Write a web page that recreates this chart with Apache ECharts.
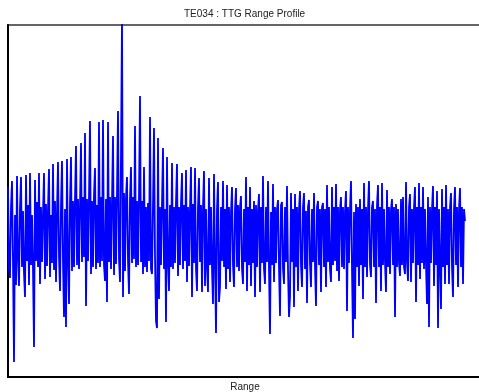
<!DOCTYPE html>
<html>
<head>
<meta charset="utf-8">
<title>TE034 : TTG Range Profile</title>
<script src="https://cdn.jsdelivr.net/npm/echarts@6/dist/echarts.min.js"></script>
<style>
  html, body { margin: 0; padding: 0; background: #ffffff; overflow: hidden; }
  #chart { width: 479px; height: 392px; }
</style>
</head>
<body>
<div id="chart"></div>
<script>
// Chart text
const chartTitle = 'TE034 : TTG Range Profile';
const xAxisTitle = 'Range';

// Range-bin extent of the axis
const rangeMin = 0;
const rangeMax = 474;

// Amplitude extent of the axis
const ampMin = 0;
const ampMax = 352;

// Profile amplitude per range bin (bin 0 .. 457)
const amplitude = [
  190,108,99,170,196,115,15,162,92,201,118,91,168,200,110,166,104,80,202,116,
  172,92,204,112,162,108,30,197,116,175,110,204,93,170,115,164,204,98,173,111,
  168,208,100,162,114,213,107,176,95,166,215,120,86,172,216,115,60,168,50,218,
  118,73,174,220,106,176,110,178,
  231,112,178,108,172,234,115,180,120,244,71,178,116,180,256,103,176,110,182,209,
  108,172,114,255,110,180,116,257,112,96,178,75,255,115,180,108,176,241,102,180,
  113,184,266,118,95,222,360,80,184,106,180,200,116,83,178,210,114,180,118,251,
  110,176,112,180,281,
  115,176,103,210,110,170,105,174,116,260,108,103,172,249,120,56,49,239,78,170,
  112,174,229,108,168,55,220,115,86,172,110,214,108,170,114,175,213,101,170,112,
  174,204,108,172,116,207,95,170,111,168,210,80,173,114,209,108,86,170,199,115,
  172,85,170,206,91,168,
  110,85,199,112,170,108,73,203,115,44,168,195,75,90,170,116,196,110,168,88,
  192,108,170,95,165,190,112,90,168,189,110,172,106,170,181,108,93,168,115,200,
  86,170,112,190,91,168,114,176,80,172,110,167,183,85,170,114,201,108,93,170,
  115,196,108,43,165,112,193,95,170,114,168,177,110,61,172,175,108,93,170,115,
  191,108,60,80,184,115,168,70,183,110,170,86,168,186,112,90,170,184,108,166,
  74,170,177,113,90,168,115,184,110,71,170,176,112,168,85,170,174,110,168,90,
  192,115,170,108,95,190,112,170,116,193,106,170,96,168,180,110,170,108,166,186,
  66,170,114,168,196,108,39,165,58,173,110,170,91,178,112,168,78,194,110,170,
  100,168,196,112,100,170,176,110,168,74,172,192,110,170,86,194,112,168,115,85,
  187,110,170,103,168,178,112,170,60,173,110,168,114,101,178,112,180,110,103,195,
  115,96,170,183,95,168,114,170,190,75,170,112,194,98,170,114,190,108,168,112,
  73,180,50,170,114,168,191,91,170,112,186,49,168,115,68,188,110,170,93,192,
  112,168,93,170,184,110,80,168,190,112,170,90,168,189,110,170,93,168,156
];

const seriesData = amplitude.map((v, i) => [i, v]);

const chart = echarts.init(document.getElementById('chart'), null, { renderer: 'canvas' });

chart.setOption({
  animation: false,
  backgroundColor: '#ffffff',
  title: {
    text: chartTitle,
    left: 184,
    top: 9,
    padding: 0,
    textStyle: {
      fontFamily: 'Liberation Sans, Arial, sans-serif',
      fontSize: 10,
      fontWeight: 'normal',
      color: '#222222'
    }
  },
  grid: {
    left: 8,
    top: 25,
    width: 474,
    height: 352,
    outerBoundsMode: 'none',
    show: true,
    borderColor: '#333333',
    borderWidth: 1.5,
    backgroundColor: 'transparent'
  },
  xAxis: {
    type: 'value',
    min: rangeMin,
    max: rangeMax,
    name: xAxisTitle,
    nameLocation: 'middle',
    nameGap: 5,
    nameTextStyle: {
      fontFamily: 'Liberation Sans, Arial, sans-serif',
      fontSize: 10,
      color: '#222222',
      verticalAlign: 'top'
    },
    axisLine: { show: true, onZero: false, lineStyle: { color: '#000000', width: 2 } },
    axisTick: { show: false },
    axisLabel: { show: false },
    splitLine: { show: false }
  },
  yAxis: {
    type: 'value',
    min: ampMin,
    max: ampMax,
    axisLine: { show: true, onZero: false, lineStyle: { color: '#000000', width: 2 } },
    axisTick: { show: false },
    axisLabel: { show: false },
    splitLine: { show: false }
  },
  series: [{
    type: 'line',
    data: seriesData,
    showSymbol: false,
    symbol: 'none',
    sampling: null,
    clip: true,
    lineStyle: { color: '#0000ff', width: 1.8 },
    emphasis: { disabled: true }
  }]
});
</script>
</body>
</html>
